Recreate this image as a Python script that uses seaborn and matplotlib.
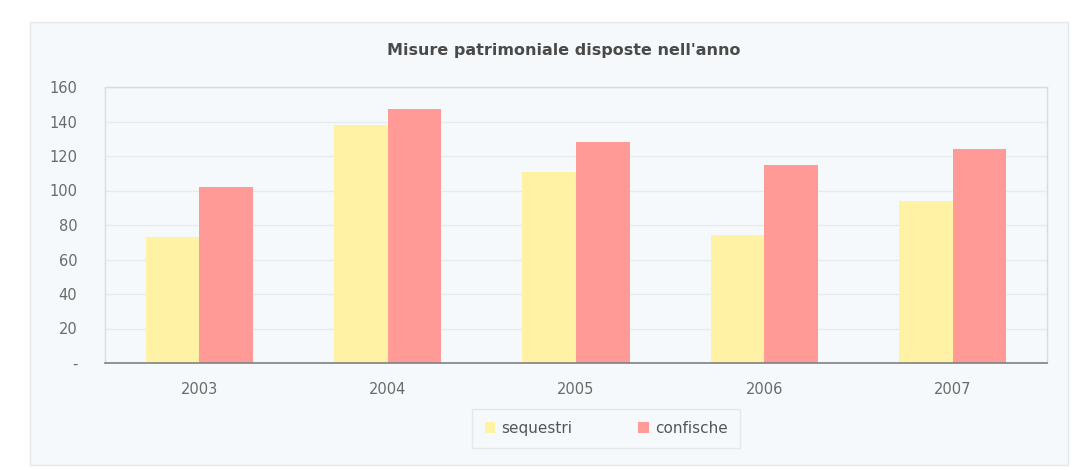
import matplotlib
matplotlib.use("Agg")
import matplotlib.pyplot as plt
from matplotlib.patches import Rectangle
import seaborn as sns
import pandas as pd

years = ["2003", "2004", "2005", "2006", "2007"]
sequestri = [73, 138, 111, 74, 94]
confische = [102, 147, 128, 115, 124]
series_names = ["sequestri", "confische"]
y_ticks = [0, 20, 40, 60, 80, 100, 120, 140, 160]
y_tick_labels = ["-", "20", "40", "60", "80", "100", "120", "140", "160"]

df = pd.DataFrame({
    "anno": years * 2,
    "valore": sequestri + confische,
    "serie": [series_names[0]] * len(years) + [series_names[1]] * len(years),
})

sns.set_theme(style="white")
plt.rcParams['font.family'] = ['DejaVu Sans']

bg = "#f6f9fb"
fig = plt.figure(figsize=(10.83, 4.70), dpi=100)
fig.patch.set_facecolor("white")
# outer chart frame
fig.patches.append(Rectangle((30/1083, 5/470), 1038/1083, 443/470, transform=fig.transFigure,
                             facecolor=bg, edgecolor="#e4e8ea", linewidth=1, zorder=-10))

ax = fig.add_axes([105/1083, 1 - 363/470, 942/1083, 276/470])
ax.set_zorder(5)
ax.set_facecolor(bg)
palette = {"sequestri": "#fff2a4", "confische": "#ff9a96"}
sns.barplot(data=df, x="anno", y="valore", hue="serie", palette=palette,
            width=0.57, gap=0, ax=ax, saturation=1, legend=True, linewidth=0)

ax.set_ylim(0, 160)
ax.set_yticks(y_ticks)
ax.set_yticklabels(y_tick_labels)
ax.yaxis.grid(True, color="#e6ebee", linewidth=1)
ax.set_axisbelow(True)
ax.set_xlabel("")
ax.set_ylabel("")
for s in ["top", "right", "left"]:
    ax.spines[s].set_color("#d8dcde")
    ax.spines[s].set_linewidth(1)
ax.spines["bottom"].set_color("#7d8184")
ax.spines["bottom"].set_linewidth(1.2)
ax.tick_params(axis="both", labelsize=10.5, colors="#6a6a6a", length=0, pad=8)
ax.tick_params(axis="y", pad=20)
ax.tick_params(axis="x", pad=14)

ax.set_title("Misure patrimoniale disposte nell'anno", fontsize=11.5, fontweight="bold",
             color="#4a4a4a", pad=23, x=0.487)

leg = ax.legend(loc="upper center", bbox_to_anchor=(0.532, -0.182), ncol=2, frameon=True,
                fontsize=11, handlelength=0.7, handleheight=0.7, columnspacing=4.3,
                handletextpad=0.4, borderpad=0.5, borderaxespad=0)
leg.get_frame().set_edgecolor("#e0e4e6")
leg.get_frame().set_facecolor(bg)
leg.get_frame().set_boxstyle("square")
for t in leg.get_texts():
    t.set_color("#555555")

fig.savefig("out.png", dpi=100, facecolor=fig.get_facecolor())
